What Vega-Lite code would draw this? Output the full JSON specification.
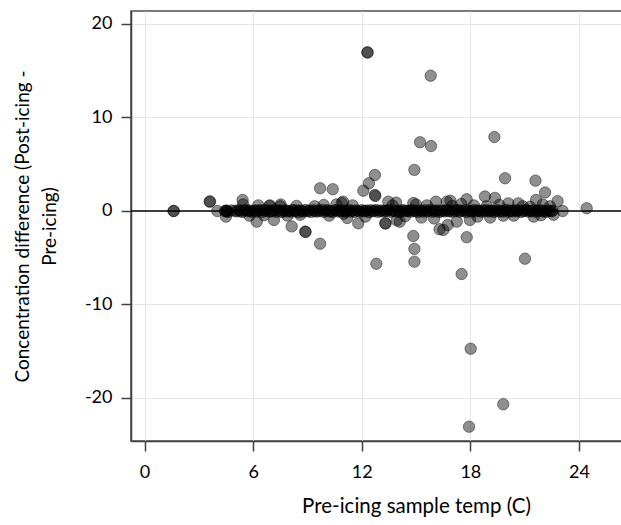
{
  "$schema": "https://vega.github.io/schema/vega-lite/v6.json",
  "autosize": "none",
  "width": 491,
  "height": 430,
  "padding": {"left": 131, "top": 11, "right": 0, "bottom": 84},
  "background": "white",
  "config": {
    "view": {"stroke": "#4d4d4d", "strokeWidth": 1.5},
    "axis": {
      "labelFont": "Lato", "labelFontSize": 18, "labelColor": "#000000",
      "titleFont": "Lato", "titleFontSize": 19, "titleFontWeight": "normal", "titleColor": "#000000",
      "domainColor": "#404040", "domainWidth": 1.5,
      "tickColor": "#404040", "tickWidth": 1.5, "tickSize": 10,
      "gridColor": "#e6e6e6", "gridWidth": 1
    }
  },
  "datasets": {
    "pts": [
      {"t":1.6,"d":0.0},{"t":1.62,"d":0.0},
      {"t":3.6,"d":1.0},{"t":3.62,"d":1.02},
      {"t":4.02,"d":0.0},{"t":4.5,"d":-0.6},{"t":5.42,"d":1.18},{"t":6.2,"d":-1.14},
      {"t":6.29,"d":0.6},{"t":6.93,"d":0.6},{"t":7.15,"d":-0.96},{"t":7.52,"d":0.7},
      {"t":8.13,"d":-1.65},{"t":8.88,"d":-2.2},{"t":8.9,"d":-2.25},{"t":8.4,"d":0.55},
      {"t":9.7,"d":2.43},{"t":10.4,"d":2.33},{"t":9.7,"d":-3.5},{"t":10.9,"d":0.85},
      {"t":11.0,"d":-0.3},{"t":11.81,"d":-1.32},{"t":12.09,"d":2.17},{"t":12.4,"d":2.96},
      {"t":12.73,"d":3.85},{"t":12.73,"d":1.71},{"t":12.75,"d":1.6},
      {"t":12.31,"d":16.97},{"t":12.33,"d":16.95},
      {"t":12.81,"d":-5.64},{"t":13.3,"d":-1.3},{"t":13.32,"d":-1.35},
      {"t":14.85,"d":-2.67},{"t":14.91,"d":-4.05},{"t":14.91,"d":-5.42},{"t":14.91,"d":4.4},
      {"t":15.22,"d":7.35},{"t":15.83,"d":6.95},{"t":15.81,"d":14.47},
      {"t":16.51,"d":-2.03},{"t":16.75,"d":-1.5},{"t":16.7,"d":1.0},
      {"t":17.52,"d":-6.74},{"t":17.8,"d":-2.8},{"t":17.8,"d":1.25},
      {"t":17.93,"d":-23.07},{"t":18.02,"d":-14.73},{"t":18.81,"d":1.55},
      {"t":19.33,"d":7.91},{"t":19.36,"d":1.4},{"t":19.82,"d":-20.67},{"t":19.82,"d":-0.5},
      {"t":19.92,"d":3.5},{"t":21.02,"d":-5.1},{"t":21.6,"d":3.25},{"t":21.63,"d":1.18},
      {"t":22.13,"d":1.98},{"t":22.82,"d":1.05},{"t":23.1,"d":0.0},{"t":24.43,"d":0.29},
      {"t":5.45,"d":0.7},{"t":6.9,"d":0.55},{"t":7.5,"d":0.5},{"t":8.6,"d":-0.4},
      {"t":10.97,"d":1.0},{"t":13.47,"d":1.0},{"t":13.9,"d":0.9},{"t":14.85,"d":0.85},
      {"t":16.1,"d":1.0},{"t":16.9,"d":1.1},{"t":13.93,"d":-1.0},{"t":14.1,"d":-1.15},
      {"t":16.3,"d":-1.95},{"t":17.25,"d":-1.14},{"t":17.98,"d":-0.96},{"t":20.1,"d":0.82},
      {"t":20.65,"d":0.82},{"t":9.4,"d":0.5},{"t":10.2,"d":-0.5},{"t":11.5,"d":0.6},
      {"t":12.2,"d":-0.6},{"t":15.3,"d":-0.7},{"t":15.6,"d":0.6},{"t":18.4,"d":-0.6},
      {"t":18.9,"d":0.5},{"t":20.4,"d":-0.5},{"t":21.3,"d":0.45},{"t":21.9,"d":-0.45},
      {"t":22.4,"d":0.5},{"t":22.6,"d":-0.4},{"t":7.9,"d":-0.5},{"t":6.6,"d":-0.45},
      {"t":5.8,"d":-0.5},{"t":9.9,"d":0.65},{"t":10.6,"d":0.7},{"t":11.2,"d":-0.75},
      {"t":13.7,"d":0.6},{"t":14.4,"d":-0.55},{"t":15.0,"d":0.7},{"t":16.0,"d":-0.8},
      {"t":17.0,"d":0.55},{"t":17.5,"d":0.75},{"t":18.2,"d":0.6},{"t":19.1,"d":-0.7},
      {"t":19.6,"d":0.65},{"t":20.9,"d":0.5},{"t":21.5,"d":-0.6},{"t":22.0,"d":0.7},
      {"t":4.45,"d":0.0},{"t":4.5,"d":-0.05},{"t":4.52,"d":0.05},{"t":4.55,"d":0.0},{"t":4.6,"d":-0.1},{"t":4.8,"d":0.05},
      {"t":5.0,"d":0.02},{"t":5.1,"d":-0.05},{"t":5.2,"d":0.08},{"t":5.3,"d":0.0},{"t":5.4,"d":-0.1},
      {"t":5.5,"d":0.04},{"t":5.6,"d":0.1},{"t":5.7,"d":-0.03},{"t":5.8,"d":0.06},{"t":5.9,"d":-0.08},
      {"t":6.0,"d":0.0},{"t":6.1,"d":0.07},{"t":6.2,"d":-0.06},{"t":6.3,"d":0.03},{"t":6.4,"d":0.1},
      {"t":6.5,"d":-0.1},{"t":6.6,"d":0.05},{"t":6.7,"d":-0.02},{"t":6.8,"d":0.09},{"t":6.9,"d":-0.07},
      {"t":7.0,"d":0.01},{"t":7.1,"d":-0.04},{"t":7.2,"d":0.12},{"t":7.3,"d":-0.09},{"t":7.4,"d":0.02},
      {"t":7.5,"d":0.06},{"t":7.6,"d":-0.11},{"t":7.7,"d":0.0},{"t":7.8,"d":0.08},{"t":7.9,"d":-0.05},
      {"t":8.0,"d":0.03},{"t":8.1,"d":-0.08},{"t":8.2,"d":0.1},{"t":8.3,"d":-0.02},{"t":8.4,"d":0.05},
      {"t":8.5,"d":-0.12},{"t":8.6,"d":0.07},{"t":8.7,"d":0.0},{"t":8.8,"d":-0.06},{"t":8.9,"d":0.11},
      {"t":9.0,"d":-0.03},{"t":9.1,"d":0.04},{"t":9.2,"d":-0.1},{"t":9.3,"d":0.09},{"t":9.4,"d":0.0},
      {"t":9.5,"d":-0.07},{"t":9.6,"d":0.06},{"t":9.7,"d":-0.01},{"t":9.8,"d":0.12},{"t":9.9,"d":-0.09},
      {"t":10.0,"d":0.02},{"t":10.1,"d":0.08},{"t":10.2,"d":-0.04},{"t":10.3,"d":0.0},{"t":10.4,"d":-0.11},
      {"t":10.5,"d":0.05},{"t":10.6,"d":0.1},{"t":10.7,"d":-0.06},{"t":10.8,"d":0.03},{"t":10.9,"d":-0.02},
      {"t":11.0,"d":0.07},{"t":11.1,"d":-0.08},{"t":11.2,"d":0.0},{"t":11.3,"d":0.11},{"t":11.4,"d":-0.05},
      {"t":11.5,"d":0.04},{"t":11.6,"d":-0.1},{"t":11.7,"d":0.06},{"t":11.8,"d":0.01},{"t":11.9,"d":-0.07},
      {"t":12.0,"d":0.09},{"t":12.1,"d":-0.03},{"t":12.2,"d":0.0},{"t":12.3,"d":0.05},{"t":12.4,"d":-0.12},
      {"t":12.5,"d":0.08},{"t":12.6,"d":-0.04},{"t":12.7,"d":0.02},{"t":12.8,"d":0.1},{"t":12.9,"d":-0.09},
      {"t":13.0,"d":0.0},{"t":13.1,"d":0.06},{"t":13.2,"d":-0.06},{"t":13.3,"d":0.03},{"t":13.4,"d":-0.01},
      {"t":13.5,"d":0.11},{"t":13.6,"d":-0.08},{"t":13.7,"d":0.04},{"t":13.8,"d":0.0},{"t":13.9,"d":-0.05},
      {"t":14.0,"d":0.07},{"t":14.1,"d":-0.1},{"t":14.2,"d":0.02},{"t":14.3,"d":0.09},{"t":14.4,"d":-0.03},
      {"t":14.5,"d":0.0},{"t":14.6,"d":0.05},{"t":14.7,"d":-0.07},{"t":14.8,"d":0.1},{"t":14.9,"d":-0.02},
      {"t":15.0,"d":0.04},{"t":15.1,"d":-0.11},{"t":15.2,"d":0.06},{"t":15.3,"d":0.0},{"t":15.4,"d":-0.06},
      {"t":15.5,"d":0.08},{"t":15.6,"d":-0.04},{"t":15.7,"d":0.01},{"t":15.8,"d":0.12},{"t":15.9,"d":-0.08},
      {"t":16.0,"d":0.03},{"t":16.1,"d":-0.02},{"t":16.2,"d":0.07},{"t":16.3,"d":-0.1},{"t":16.4,"d":0.0},
      {"t":16.5,"d":0.05},{"t":16.6,"d":-0.05},{"t":16.7,"d":0.09},{"t":16.8,"d":-0.03},{"t":16.9,"d":0.02},
      {"t":17.0,"d":-0.09},{"t":17.1,"d":0.06},{"t":17.2,"d":0.0},{"t":17.3,"d":0.1},{"t":17.4,"d":-0.07},
      {"t":17.5,"d":0.04},{"t":17.6,"d":-0.01},{"t":17.7,"d":0.08},{"t":17.8,"d":-0.12},{"t":17.9,"d":0.03},
      {"t":18.0,"d":0.0},{"t":18.1,"d":-0.06},{"t":18.2,"d":0.11},{"t":18.3,"d":-0.04},{"t":18.4,"d":0.05},
      {"t":18.5,"d":0.02},{"t":18.6,"d":-0.08},{"t":18.7,"d":0.07},{"t":18.8,"d":-0.02},{"t":18.9,"d":0.1},
      {"t":19.0,"d":-0.05},{"t":19.1,"d":0.0},{"t":19.2,"d":0.06},{"t":19.3,"d":-0.1},{"t":19.4,"d":0.03},
      {"t":19.5,"d":0.09},{"t":19.6,"d":-0.03},{"t":19.7,"d":0.01},{"t":19.8,"d":-0.07},{"t":19.9,"d":0.05},
      {"t":20.0,"d":0.12},{"t":20.1,"d":-0.09},{"t":20.2,"d":0.0},{"t":20.3,"d":0.04},{"t":20.4,"d":-0.04},
      {"t":20.5,"d":0.08},{"t":20.6,"d":-0.01},{"t":20.7,"d":0.06},{"t":20.8,"d":-0.11},{"t":20.9,"d":0.02},
      {"t":21.0,"d":0.0},{"t":21.1,"d":0.1},{"t":21.2,"d":-0.06},{"t":21.3,"d":0.03},{"t":21.4,"d":-0.03},
      {"t":21.5,"d":0.07},{"t":21.6,"d":-0.08},{"t":21.7,"d":0.05},{"t":21.8,"d":0.0},{"t":21.9,"d":0.09},
      {"t":22.0,"d":-0.05},{"t":22.1,"d":0.02},{"t":22.2,"d":-0.1},{"t":22.3,"d":0.06},{"t":22.4,"d":0.0},
      {"t":22.5,"d":-0.03},{"t":22.55,"d":0.04}
    ]
  },
  "layer": [
    {
      "data": {"values": [{"z": 0}]},
      "mark": {"type": "rule", "color": "#000000", "strokeWidth": 1.5},
      "encoding": {"y": {"field": "z", "type": "quantitative", "scale": {"domain": [-24.6, 21.39], "nice": false}}}
    },
    {
      "data": {"name": "pts"},
      "mark": {"type": "circle", "size": 130, "fill": "#000000", "fillOpacity": 0.44, "stroke": "#000000", "strokeOpacity": 0.44, "strokeWidth": 1},
      "encoding": {
        "x": {
          "field": "t", "type": "quantitative",
          "scale": {"domain": [-0.746, 26.38], "nice": false, "zero": false},
          "axis": {"values": [0, 6, 12, 18, 24], "labelExpr": "datum.value + ''", "title": "Pre-icing sample temp (C)", "titleFontSize": 20.5, "labelPadding": 12, "titlePadding": 15, "titleX": 285, "titleAlign": "center"}
        },
        "y": {
          "field": "d", "type": "quantitative",
          "scale": {"domain": [-24.6, 21.39], "nice": false},
          "axis": {"values": [-20, -10, 0, 10, 20], "labelExpr": "datum.value + ''", "title": ["Concentration difference (Post-icing -", "Pre-icing)"], "titleFontSize": 19, "titleLineHeight": 27, "labelPadding": 9, "titlePadding": 25}
        }
      }
    }
  ]
}
